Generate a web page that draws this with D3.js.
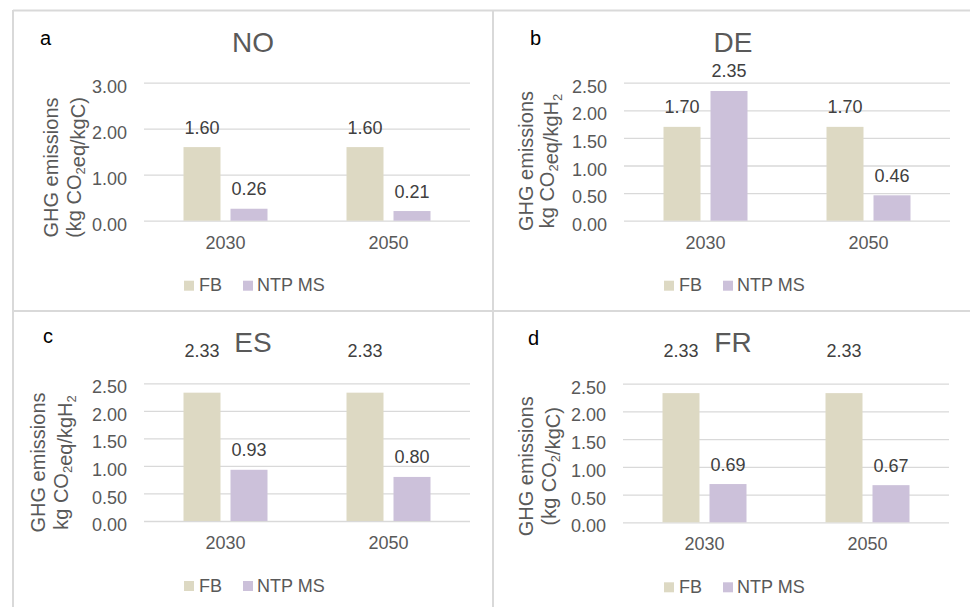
<!DOCTYPE html>
<html>
<head>
<meta charset="utf-8">
<script src="https://cdn.jsdelivr.net/npm/d3@7"></script>
<style>
  body { margin: 0; background: #fff; }
  svg { display: block; font-family: "Liberation Sans", Arial, sans-serif; }
</style>
</head>
<body>
<svg id="chart" width="970" height="607"></svg>
<script>
// data
const years = ['2030', '2050'];
const seriesNames = ['FB', 'NTP MS'];
const countries = ['NO', 'DE', 'ES', 'FR'];
const panelLetters = ['a', 'b', 'c', 'd'];
const fbValues = [[1.60, 1.60], [1.70, 1.70], [2.33, 2.33], [2.33, 2.33]];
const ntpValues = [[0.26, 0.21], [2.35, 0.46], [0.93, 0.80], [0.69, 0.67]];
const yMax = [3, 2.5, 2.5, 2.5];
const yStep = [1, 0.5, 0.5, 0.5];
const yTitles = ['GHG emissions', 'GHG emissions', 'GHG emissions', 'GHG emissions'];
// "_2" marks a subscript 2
const yUnits = ['(kg CO_2eq/kgC)', 'kg CO_2eq/kgH_2', 'kg CO_2eq/kgH_2', '(kg CO_2/kgC)'];

// layout per panel (positions only)
const layout = [
  {ox: 0,   oy: 0,   left: 144, right: 470, top: 82.7, bottom: 220.7, letterX: 40, letterY: 45, t1: 57.5, t2: 81,   tY: 167.5, fbLabelY: null},
  {ox: 480, oy: 0,   left: 144, right: 470, top: 82.7, bottom: 220.7, letterX: 50, letterY: 45, t1: 53,   t2: 74,   tY: 161,   fbLabelY: null},
  {ox: 0,   oy: 300, left: 144, right: 470, top: 83.3, bottom: 221,   letterX: 43, letterY: 43, t1: 45,   t2: 67.5, tY: 162.5, fbLabelY: 57},
  {ox: 480, oy: 300, left: 143, right: 469, top: 83.7, bottom: 222.3, letterX: 48, letterY: 45, t1: 52.7, t2: 76,   tY: 166.3, fbLabelY: 57}
];

const colors = {'FB': '#ddd9c3', 'NTP MS': '#ccc1da'};
const textGrey = '#595959';
const gridGrey = '#d9d9d9';

const svg = d3.select('#chart');

// panel frame lines
const frame = svg.append('g').attr('stroke', gridGrey).attr('stroke-width', 2);
frame.append('line').attr('x1', 13).attr('x2', 970).attr('y1', 10.5).attr('y2', 10.5);
frame.append('line').attr('x1', 13).attr('x2', 970).attr('y1', 311).attr('y2', 311);
frame.append('line').attr('x1', 13).attr('x2', 13).attr('y1', 10).attr('y2', 607);
frame.append('line').attr('x1', 493).attr('x2', 493).attr('y1', 10).attr('y2', 607);

countries.forEach((country, i) => {
  const L = layout[i];
  const g = svg.append('g').attr('transform', `translate(${L.ox},${L.oy})`);

  const y = d3.scaleLinear().domain([0, yMax[i]]).range([L.bottom, L.top]);
  const x0 = d3.scaleBand().domain(years).range([L.left, L.right]);
  const x1 = d3.scaleBand().domain(seriesNames).range([39.5, 123.5]).paddingInner(0.2128);

  // gridlines + tick labels
  const ticks = d3.range(0, yMax[i] + 1e-9, yStep[i]);
  const yAxis = g.append('g')
    .attr('transform', `translate(${L.left},0)`)
    .call(d3.axisLeft(y).tickValues(ticks).tickSize(-(L.right - L.left)).tickPadding(17).tickFormat(d3.format('.2f')));
  yAxis.select('.domain').remove();
  yAxis.selectAll('line').attr('stroke', gridGrey).attr('stroke-width', 1.3);
  yAxis.selectAll('text').attr('fill', textGrey).attr('font-size', '18px').attr('dy', '0.53em');
  yAxis.attr('font-family', null);

  // x labels
  const xAxis = g.append('g')
    .attr('transform', `translate(0,${L.bottom})`)
    .call(d3.axisBottom(x0).tickSize(0).tickPadding(15.3));
  xAxis.select('.domain').remove();
  xAxis.selectAll('text').attr('fill', textGrey).attr('font-size', '18px');
  xAxis.attr('font-family', null);

  const rows = years.map((yr, j) => ({
    year: yr,
    vals: [{s: 'FB', v: fbValues[i][j]}, {s: 'NTP MS', v: ntpValues[i][j]}]
  }));

  const groups = g.selectAll('g.cat')
    .data(rows).enter().append('g')
    .attr('class', 'cat')
    .attr('transform', d => `translate(${x0(d.year)},0)`);

  groups.selectAll('rect')
    .data(d => d.vals).enter().append('rect')
    .attr('x', d => x1(d.s))
    .attr('width', x1.bandwidth())
    .attr('y', d => y(d.v))
    .attr('height', d => y(0) - y(d.v))
    .attr('fill', d => colors[d.s]);

  groups.selectAll('text.val')
    .data(d => d.vals).enter().append('text')
    .attr('class', 'val')
    .attr('x', d => x1(d.s) + x1.bandwidth() / 2)
    .attr('y', d => (d.s === 'FB' && L.fbLabelY != null) ? L.fbLabelY : y(d.v) - 13.5)
    .attr('text-anchor', 'middle')
    .attr('font-size', '18px')
    .attr('fill', '#404040')
    .text(d => d3.format('.2f')(d.v));

  // title + panel letter
  g.append('text')
    .attr('x', 253).attr('y', 52)
    .attr('text-anchor', 'middle')
    .attr('font-size', '28px')
    .attr('fill', textGrey)
    .text(country);

  g.append('text')
    .attr('x', L.letterX).attr('y', L.letterY)
    .attr('font-size', '20px')
    .attr('fill', '#000')
    .text(panelLetters[i]);

  // y axis title, two lines
  g.append('text')
    .attr('transform', `translate(${L.t1},${L.tY}) rotate(-90)`)
    .attr('text-anchor', 'middle')
    .attr('font-size', '20px')
    .attr('fill', textGrey)
    .text(yTitles[i]);

  const unit = g.append('text')
    .attr('transform', `translate(${L.t2},${L.tY}) rotate(-90)`)
    .attr('text-anchor', 'middle')
    .attr('font-size', '20px')
    .attr('fill', textGrey);
  const parts = yUnits[i].split('_2');
  parts.forEach((p, k) => {
    if (p) unit.append('tspan').text(p);
    if (k < parts.length - 1) {
      unit.append('tspan').attr('font-size', '13px').attr('dy', 4).text('2');
      unit.append('tspan').attr('dy', -4).text('');
    }
  });

  // legend
  const legX = [184, 243];
  const leg = g.selectAll('g.leg')
    .data(seriesNames).enter().append('g')
    .attr('class', 'leg')
    .attr('transform', (d, k) => `translate(${legX[k]},${L.bottom + 60})`);
  leg.append('rect').attr('width', 10).attr('height', 10).attr('fill', d => colors[d]);
  leg.append('text')
    .attr('x', d => d === 'FB' ? 15 : 14)
    .attr('y', 10.5)
    .attr('font-size', '18px')
    .attr('fill', textGrey)
    .text(d => d);
});
</script>
</body>
</html>
